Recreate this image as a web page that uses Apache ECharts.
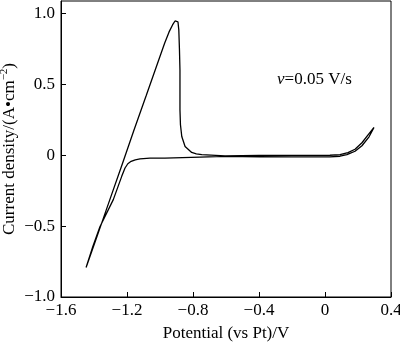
<!DOCTYPE html>
<html>
<head>
<meta charset="utf-8">
<script src="https://cdn.jsdelivr.net/npm/echarts@6/dist/echarts.min.js"></script>
<style>html,body{margin:0;padding:0;background:#fff;}#c{width:400px;height:343px;}</style>
</head>
<body>
<div id="c"></div>
<script>
// Cathodic (forward) scan: from +0.3 V down to -1.45 V
const forwardPotential = [0.297, 0.267, 0.224, 0.182, 0.133, 0.091, 0.030, -0.152, -0.394, -0.606, -0.758, -0.970, -1.061, -1.121, -1.150, -1.175, -1.195, -1.212, -1.232, -1.283, -1.364, -1.407, -1.448];
const forwardCurrent   = [0.196, 0.130, 0.067, 0.028, 0.004, -0.007, -0.011, -0.011, -0.011, -0.008, -0.013, -0.020, -0.020, -0.026, -0.032, -0.043, -0.060, -0.090, -0.149, -0.313, -0.504, -0.644, -0.792];
// Anodic (reverse) scan: from -1.45 V back to +0.3 V
const reversePotential = [-1.448, -1.382, -1.304, -1.230, -1.157, -1.084, -1.011, -0.972, -0.945, -0.924, -0.909, -0.900, -0.891, -0.886, -0.882, -0.879, -0.879, -0.876, -0.868, -0.848, -0.808, -0.780, -0.747, -0.606, -0.400, -0.200, 0.030, 0.091, 0.139, 0.182, 0.224, 0.261, 0.297];
const reverseCurrent   = [-0.792, -0.574, -0.313, -0.067, 0.180, 0.419, 0.661, 0.790, 0.870, 0.919, 0.947, 0.954, 0.940, 0.884, 0.743, 0.602, 0.320, 0.215, 0.132, 0.062, 0.020, 0.009, 0.004, -0.004, -0.002, -0.001, 0.000, 0.004, 0.018, 0.042, 0.088, 0.144, 0.196];

const xTickValues = [-1.6, -1.2, -0.8, -0.4, 0, 0.4];
const xTickLabels = ['−1.6', '−1.2', '−0.8', '−0.4', '0', '0.4'];
const yTickValues = [-1.0, -0.5, 0, 0.5, 1.0];
const yTickLabels = ['−1.0', '−0.5', '0', '0.5', '1.0'];

const xAxisTitle = 'Potential (vs Pt)/V';
const yAxisTitle = 'Current density/(A•cm{sup|−2})';
const scanRateLabel = '{i|v}=0.05 V/s';

const loop = [];
forwardPotential.forEach((v, i) => loop.push([v, forwardCurrent[i]]));
reversePotential.forEach((v, i) => loop.push([v, reverseCurrent[i]]));

function lookup(vals, labels) {
  return function (v) {
    const i = vals.findIndex(t => Math.abs(t - v) < 1e-6);
    return i >= 0 ? labels[i] : '';
  };
}

const FONT = 'Liberation Serif';
const FS = 17;
const chart = echarts.init(document.getElementById('c'), null, {renderer: 'canvas'});
chart.setOption({
  animation: false,
  backgroundColor: '#fff',
  textStyle: {fontFamily: FONT, color: '#000'},
  title: {
    text: scanRateLabel,
    left: 277, top: 71, padding: 0,
    textStyle: {fontFamily: FONT, fontSize: FS, fontWeight: 'normal', color: '#000',
      rich: {i: {fontFamily: FONT, fontSize: FS, fontStyle: 'italic', color: '#000'}}}
  },
  grid: {left: 61, right: 9, top: 1, bottom: 46, containLabel: false, outerBoundsMode: 'none',
    show: true, borderColor: '#000', borderWidth: 1, backgroundColor: 'transparent'},
  xAxis: {
    type: 'value', min: -1.6, max: 0.4, interval: 0.4,
    name: xAxisTitle, nameLocation: 'middle', nameGap: 28, nameMoveOverlap: false,
    nameTextStyle: {fontFamily: FONT, fontSize: FS, color: '#000'},
    axisLine: {show: true, onZero: false, lineStyle: {color: '#000', width: 1}},
    axisTick: {show: true, inside: true, length: 5, lineStyle: {color: '#000'}},
    axisLabel: {fontFamily: FONT, fontSize: FS, color: '#000', margin: 5, formatter: lookup(xTickValues, xTickLabels)},
    splitLine: {show: false}
  },
  yAxis: {
    type: 'value', min: -1.0, max: 1.088, interval: 0.5,
    name: yAxisTitle, nameLocation: 'middle', nameGap: 41, nameRotate: 90, nameMoveOverlap: false,
    nameTextStyle: {fontFamily: FONT, fontSize: FS, color: '#000',
      rich: {sup: {fontFamily: FONT, fontSize: 11, color: '#000', padding: [0, 0, 10, 0]}}},
    axisLine: {show: true, onZero: false, lineStyle: {color: '#000', width: 1}},
    axisTick: {show: true, inside: true, length: 5, lineStyle: {color: '#000'}},
    axisLabel: {fontFamily: FONT, fontSize: FS, color: '#000', margin: 6, showMaxLabel: false, formatter: lookup(yTickValues, yTickLabels)},
    splitLine: {show: false}
  },
  series: [{
    type: 'line', data: loop, showSymbol: false, smooth: false,
    lineStyle: {color: '#000', width: 1.3}
  }]
});
</script>
</body>
</html>
